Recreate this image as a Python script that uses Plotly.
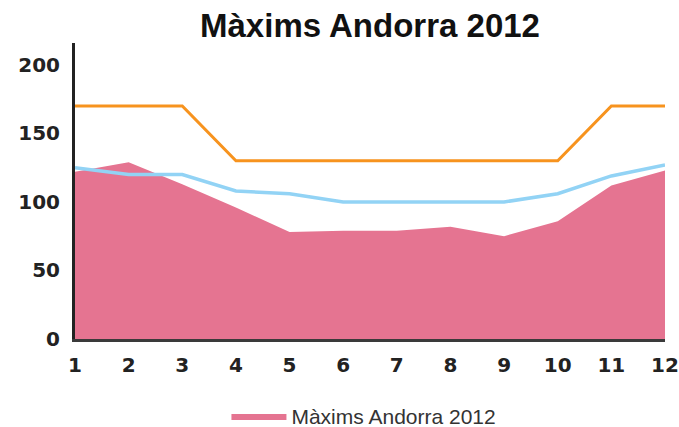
import plotly.graph_objects as go

months = [1, 2, 3, 4, 5, 6, 7, 8, 9, 10, 11, 12]
tick_labels = ["1", "2", "3", "4", "5", "6", "7", "8", "9", "10", "11", "12"]
maxims_2012 = [122, 129, 113, 96, 78, 79, 79, 82, 75, 86, 112, 123]
limit_orange = [170, 170, 170, 130, 130, 130, 130, 130, 130, 130, 170, 170]
reference_blue = [125, 120, 120, 108, 106, 100, 100, 100, 100, 106, 119, 127]
y_ticks = [0, 50, 100, 150, 200]

fig = go.Figure()
fig.add_trace(go.Scatter(
    x=months, y=maxims_2012, mode="lines", fill="tozeroy",
    fillcolor="#E57491", line=dict(width=0, color="#E57491"),
    name="Màxims Andorra 2012", showlegend=True))
fig.add_trace(go.Scatter(
    x=months, y=limit_orange, mode="lines",
    line=dict(color="#F7931E", width=3), showlegend=False))
fig.add_trace(go.Scatter(
    x=months, y=reference_blue, mode="lines",
    line=dict(color="#92D3F5", width=3.5), showlegend=False))

tick_font = dict(family="DejaVu Sans", size=20, color="#222", weight="bold")

fig.update_layout(
    width=679, height=427,
    margin=dict(l=75, r=14, t=43, b=88),
    plot_bgcolor="white", paper_bgcolor="white",
    title=dict(text="Màxims Andorra 2012", x=0.5, xref="paper", xanchor="center",
               y=0.94, yref="container", yanchor="middle",
               font=dict(family="Liberation Sans", size=33, color="#111", weight="bold")),
    xaxis=dict(range=[1, 12], tickvals=months, ticktext=tick_labels, automargin=False,
               showgrid=False, zeroline=False, showline=True, linecolor="#3a3a3a",
               linewidth=2.5, ticks="", ticklabelstandoff=6, ticklabeloverflow="allow",
               tickfont=tick_font),
    yaxis=dict(range=[0, 216], tickvals=y_ticks, showgrid=False, zeroline=False,
               automargin=False,
               showline=True, linecolor="#222", linewidth=3, ticks="",
               ticklabelstandoff=8, tickfont=tick_font),
    legend=dict(orientation="h", x=0.536, xanchor="center", xref="container",
                y=0.025, yanchor="middle", yref="container", itemwidth=55,
                font=dict(family="Liberation Sans", size=21, color="#333")),
)

fig.write_html(
    "out.html",
    config={"displayModeBar": False},
    post_script="document.body.style.margin='0';document.body.style.overflow='hidden';",
)
